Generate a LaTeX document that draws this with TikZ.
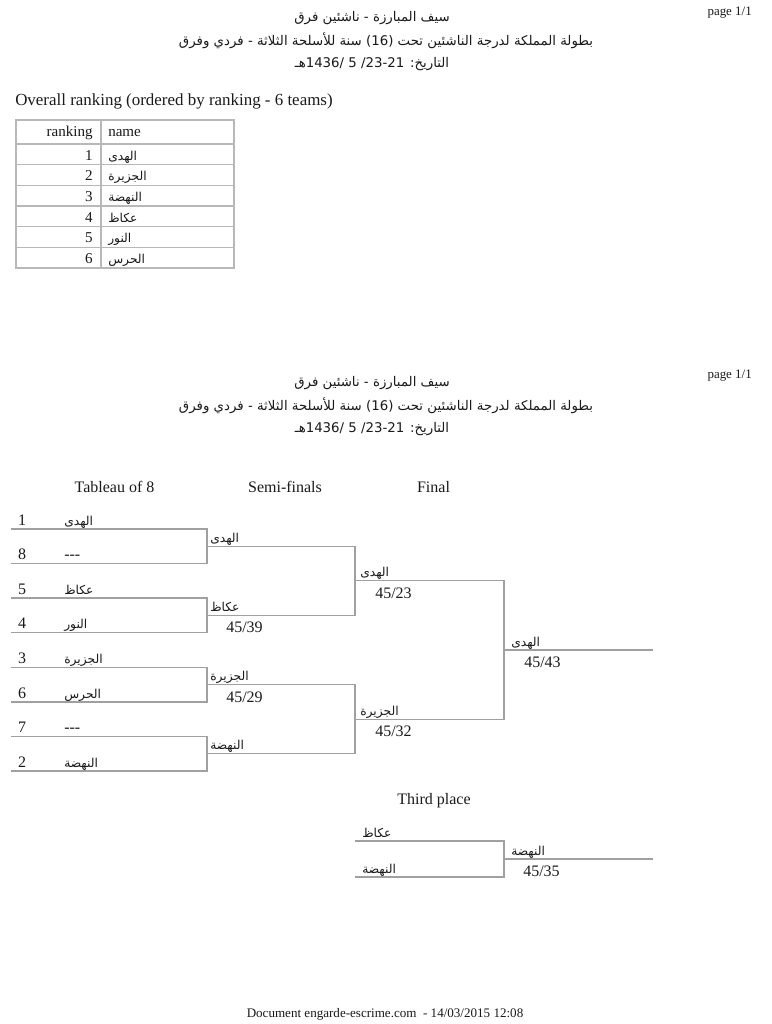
\documentclass[tikz,border=0pt]{standalone}
\usepackage{fontspec}
\setmainfont{Liberation Serif}
\newfontfamily\arabicfont[Script=Arabic]{DejaVu Sans}
\TeXXeTstate=1
\newcommand\arb[1]{{\arabicfont\beginR #1\endR}}
\definecolor{linegray}{HTML}{A0A0A0}
\definecolor{tblgray}{HTML}{B8B8B8}
\definecolor{textc}{HTML}{1A1A1A}
\tikzset{
  brk/.style={draw=linegray, line width=0.9pt},
  tbl/.style={draw=tblgray, line width=0.9pt},
  lat/.style={inner sep=0pt, anchor=base west, text=textc, font=\fontsize{12}{14}\selectfont},
  latc/.style={lat, anchor=base},
  late/.style={lat, anchor=base east},
  small/.style={inner sep=0pt, anchor=base east, text=textc, font=\fontsize{9.7}{12}\selectfont},
  tnum/.style={inner sep=0pt, anchor=base east, text=textc, font=\fontsize{11.3}{13}\selectfont},
  tlat/.style={inner sep=0pt, anchor=base west, text=textc, font=\fontsize{11.3}{13}\selectfont},
  ar/.style={inner sep=0pt, anchor=base west, text=textc, font=\fontsize{9.2}{11}\selectfont},
  title/.style={inner sep=0pt, anchor=base, text=textc, font=\fontsize{10}{12}\selectfont},
}
\begin{document}
\begin{tikzpicture}[x=0.75pt, y=-0.75pt]
\useasboundingbox[fill=white] (0,0) rectangle (771,1024);

% ---------- first page header ----------
\node[small] (pg1) at (752,16) {page 1/1};
\node[title] (t1a) at (372,22) {\arb{سيف المبارزة - ناشئين فرق}};
\node[title] (t1b) at (386,46) {\arb{بطولة المملكة لدرجة الناشئين تحت \beginL(16)\endL{} سنة للأسلحة الثلاثة - فردي وفرق}};
\node[title] (t1c) at (372,68) {\arb{التاريخ: \beginL23-21\endL/ \beginL5\endL{} /\beginL1436\endL{}هـ}};

\node[lat, font=\fontsize{12.7}{15}\selectfont] (ovr) at (15,105) {Overall ranking (ordered by ranking - 6 teams)};

% ---------- table ----------
\draw[tbl] (16,120) rectangle (234,268);
\draw[tbl] (101,120) -- (101,268);
\foreach \yy in {144,164.67,185.33,206,226.67,247.33} {\draw[tbl] (16,\yy) -- (234,\yy);}
\node[tnum] (hrk) at (93,137) {ranking};
\node[tlat] (hnm) at (108,137) {name};
\node[tnum] (n1) at (93,160) {1};
\node[ar] (a1) at (108,160) {\arb{الهدى}};
\node[tnum] (n2) at (93,180.67) {2};
\node[ar] (a2) at (108,180.67) {\arb{الجزيرة}};
\node[tnum] (n3) at (93,201.33) {3};
\node[ar] (a3) at (108,201.33) {\arb{النهضة}};
\node[tnum] (n4) at (93,222) {4};
\node[ar] (a4) at (108,222) {\arb{عكاظ}};
\node[tnum] (n5) at (93,242.67) {5};
\node[ar] (a5) at (108,242.67) {\arb{النور}};
\node[tnum] (n6) at (93,263.33) {6};
\node[ar] (a6) at (108,263.33) {\arb{الحرس}};

% ---------- second page header ----------
\node[small] (pg2) at (752,378) {page 1/1};
\node[title] (t2a) at (372,386) {\arb{سيف المبارزة - ناشئين فرق}};
\node[title] (t2b) at (386,410) {\arb{بطولة المملكة لدرجة الناشئين تحت \beginL(16)\endL{} سنة للأسلحة الثلاثة - فردي وفرق}};
\node[title] (t2c) at (372,432) {\arb{التاريخ: \beginL23-21\endL/ \beginL5\endL{} /\beginL1436\endL{}هـ}};

\node[latc] (c1) at (114.5,492) {Tableau of 8};
\node[latc] (c2) at (285,492) {Semi-finals};
\node[latc] (c3) at (433.5,492) {Final};

% ---------- bracket coordinates ----------
\coordinate (p1) at (11,529);   \coordinate (q1) at (207,529);
\coordinate (p2) at (11,563.5); \coordinate (q2) at (207,563.5);
\coordinate (p3) at (11,598);   \coordinate (q3) at (207,598);
\coordinate (p4) at (11,632.5); \coordinate (q4) at (207,632.5);
\coordinate (p5) at (11,667.5); \coordinate (q5) at (207,667.5);
\coordinate (p6) at (11,702);   \coordinate (q6) at (207,702);
\coordinate (p7) at (11,736.5); \coordinate (q7) at (207,736.5);
\coordinate (p8) at (11,771);   \coordinate (q8) at (207,771);
\coordinate (s1) at (207,546.25); \coordinate (u1) at (355,546.25);
\coordinate (s2) at (207,615.25); \coordinate (u2) at (355,615.25);
\coordinate (s3) at (207,684.75); \coordinate (u3) at (355,684.75);
\coordinate (s4) at (207,753.75); \coordinate (u4) at (355,753.75);
\coordinate (f1) at (355,580.75); \coordinate (g1) at (504,580.75);
\coordinate (f2) at (355,719.25); \coordinate (g2) at (504,719.25);
\coordinate (w1) at (504,650);    \coordinate (w2) at (653,650);

\draw[brk] (p1) -- (q1) -- (q2) -- (p2);
\draw[brk] (p3) -- (q3) -- (q4) -- (p4);
\draw[brk] (p5) -- (q5) -- (q6) -- (p6);
\draw[brk] (p7) -- (q7) -- (q8) -- (p8);
\draw[brk] (s1) -- (u1) -- (u2) -- (s2);
\draw[brk] (s3) -- (u3) -- (u4) -- (s4);
\draw[brk] (f1) -- (g1) -- (g2) -- (f2);
\draw[brk] (w1) -- (w2);

% round 1 labels
\node[latc] (sd1) at (22,525) {1};
\node[ar] (nm1) at (64,525) {\arb{الهدى}};
\node[latc] (sd8) at (22,559.5) {8};
\node[lat] (nm8) at (64,559.5) {-{}-{}-};
\node[latc] (sd5) at (22,594) {5};
\node[ar] (nm5) at (64,594) {\arb{عكاظ}};
\node[latc] (sd4) at (22,628.5) {4};
\node[ar] (nm4) at (64,628.5) {\arb{النور}};
\node[latc] (sd3) at (22,663.5) {3};
\node[ar] (nm3) at (64,663.5) {\arb{الجزيرة}};
\node[latc] (sd6) at (22,698) {6};
\node[ar] (nm6) at (64,698) {\arb{الحرس}};
\node[latc] (sd7) at (22,732.5) {7};
\node[lat] (nm7) at (64,732.5) {-{}-{}-};
\node[latc] (sd2) at (22,767) {2};
\node[ar] (nm2) at (64,767) {\arb{النهضة}};

% semi-final labels
\node[ar] (sm1) at (210,542) {\arb{الهدى}};
\node[ar] (sm2) at (210,611) {\arb{عكاظ}};
\node[lat] (sc2) at (226,632.5) {45/39};
\node[ar] (sm3) at (210,680.5) {\arb{الجزيرة}};
\node[lat] (sc3) at (226,702) {45/29};
\node[ar] (sm4) at (210,749.5) {\arb{النهضة}};

% final labels
\node[ar] (fn1) at (360,576.5) {\arb{الهدى}};
\node[lat] (fs1) at (375,598) {45/23};
\node[ar] (fn2) at (360,715) {\arb{الجزيرة}};
\node[lat] (fs2) at (375,736.5) {45/32};
\node[ar] (ch) at (511,646) {\arb{الهدى}};
\node[lat] (chs) at (524,667.5) {45/43};

% ---------- third place ----------
\node[latc] (c4) at (434,804) {Third place};
\coordinate (t1) at (355,841); \coordinate (h1) at (504,841);
\coordinate (t2) at (355,877); \coordinate (h2) at (504,877);
\coordinate (tw1) at (504,859); \coordinate (tw2) at (653,859);
\draw[brk] (t1) -- (h1) -- (h2) -- (t2);
\draw[brk] (tw1) -- (tw2);
\node[ar] (tp1) at (362,837) {\arb{عكاظ}};
\node[ar] (tp2) at (362,873) {\arb{النهضة}};
\node[ar] (tpw) at (511,855) {\arb{النهضة}};
\node[lat] (tps) at (523,876.5) {45/35};

% ---------- footer ----------
\node[inner sep=0pt, anchor=base, text=textc, font=\fontsize{9.8}{12}\selectfont] (foot) at (385,1017) {Document engarde-escrime.com \ - 14/03/2015 12:08};
\end{tikzpicture}
\end{document}
